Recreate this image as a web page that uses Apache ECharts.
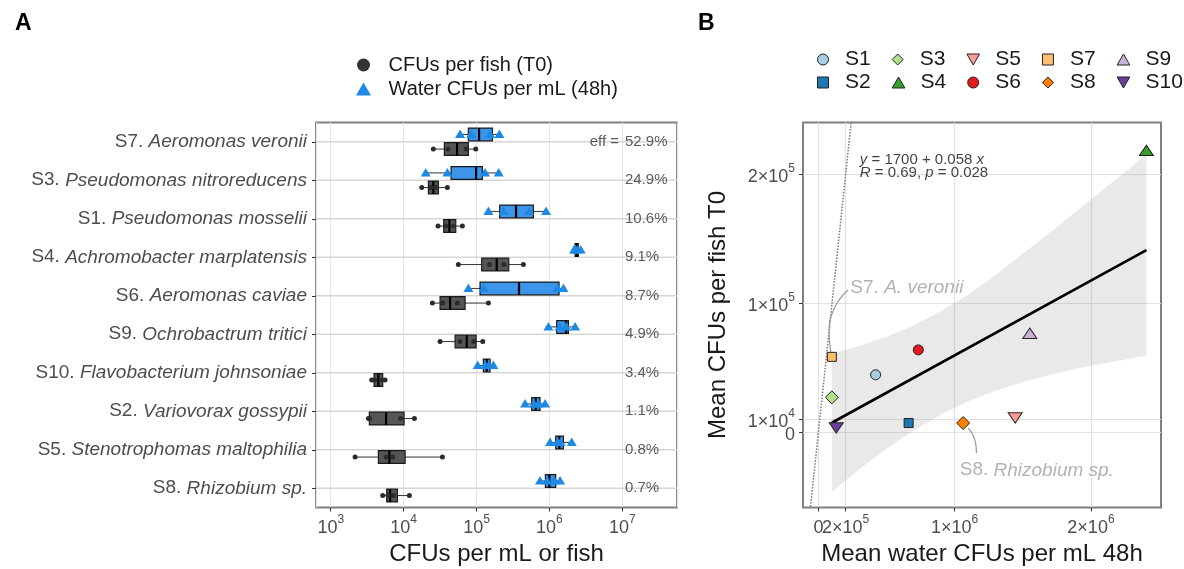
<!DOCTYPE html>
<html>
<head>
<meta charset="utf-8">
<script src="https://cdn.jsdelivr.net/npm/echarts@6/dist/echarts.min.js"></script>
<style>
  html, body { margin: 0; padding: 0; background: #fff; }
  #main { width: 1184px; height: 569px; }
</style>
</head>
<body>
<div id="main"></div>
<script>
  // ---- panel A : strains, top to bottom ----
  var strainIds = ['S7', 'S3', 'S1', 'S4', 'S6', 'S9', 'S10', 'S2', 'S5', 'S8'];
  var speciesNames = ['Aeromonas veronii', 'Pseudomonas nitroreducens', 'Pseudomonas mosselii',
    'Achromobacter marplatensis', 'Aeromonas caviae', 'Ochrobactrum tritici',
    'Flavobacterium johnsoniae', 'Variovorax gossypii', 'Stenotrophomas maltophilia', 'Rhizobium sp.'];
  var effLabels = ['52.9%', '24.9%', '10.6%', '9.1%', '8.7%', '4.9%', '3.4%', '1.1%', '0.8%', '0.7%'];

  // log10 CFUs : [min, q1, median, q3, max]
  var fishBoxLog = [
    [4.408, 4.559, 4.733, 4.888, 4.989],
    [4.248, 4.340, 4.408, 4.477, 4.600],
    [4.472, 4.550, 4.628, 4.715, 4.806],
    [4.751, 5.071, 5.277, 5.442, 5.643],
    [4.395, 4.500, 4.637, 4.843, 5.163],
    [4.500, 4.706, 4.866, 4.994, 5.085],
    [3.562, 3.594, 3.654, 3.713, 3.745],
    [3.517, 3.530, 3.759, 4.006, 4.148],
    [3.334, 3.654, 3.805, 4.020, 4.532],
    [3.713, 3.768, 3.814, 3.914, 4.079]
  ];
  // log10 CFUs, replicate fish
  var fishPtsLog = [
    [4.408, 4.609, 4.855, 4.989],
    [4.248, 4.371, 4.436, 4.600],
    [4.472, 4.576, 4.685, 4.806],
    [4.751, 5.178, 5.375, 5.643],
    [4.395, 4.535, 4.736, 5.163],
    [4.500, 4.775, 4.964, 5.085],
    [3.562, 3.605, 3.702, 3.745],
    [3.517, 3.534, 3.959, 4.148],
    [3.334, 3.761, 3.849, 4.532],
    [3.713, 3.786, 3.859, 4.079]
  ];
  var waterBoxLog = [
    [4.774, 4.888, 5.035, 5.218, 5.314],
    [4.294, 4.651, 4.994, 5.080, 5.309],
    [5.163, 5.318, 5.542, 5.780, 5.954],
    [6.338, 6.352, 6.374, 6.397, 6.429],
    [4.888, 5.048, 5.583, 6.132, 6.192],
    [5.986, 6.100, 6.228, 6.260, 6.352],
    [5.016, 5.094, 5.140, 5.186, 5.231],
    [5.666, 5.757, 5.812, 5.871, 5.940],
    [6.009, 6.086, 6.137, 6.192, 6.306],
    [5.871, 5.945, 5.999, 6.086, 6.146]
  ];
  var waterPtsLog = [
    [4.774, 4.926, 5.186, 5.314],
    [4.303, 4.600, 5.117, 5.304],
    [5.163, 5.370, 5.722, 5.954],
    [6.338, 6.357, 6.387, 6.429],
    [4.888, 5.101, 6.112, 6.192],
    [5.986, 6.138, 6.229, 6.352],
    [5.016, 5.120, 5.171, 5.231],
    [5.666, 5.787, 5.848, 5.940],
    [6.009, 6.112, 6.154, 6.306],
    [5.871, 5.970, 6.066, 6.146]
  ];

  // ---- panel B : strain means ----
  var meanIds = ['S1', 'S2', 'S3', 'S4', 'S5', 'S6', 'S7', 'S8', 'S9', 'S10'];
  var meanWater = [420000, 662000, 98800, 2407000, 1444000, 733000, 98800, 1062000, 1551000, 131000];
  var meanFish = [44600, 7200, 27100, 218600, 11100, 63900, 58500, 7200, 76800, 3400];
  var meanColors = ['#a6cee3', '#1f78b4', '#b2df8a', '#33a02c', '#fb9a99', '#e31a1c', '#fdbf6f', '#ff7f00', '#cab2d6', '#6a3d9a'];

  var fitLine = [[98800, 7400], [2407000, 141300]];
  var identityLine = [[-120000, -120000], [260000, 260000]];
  var bandX = [98800, 300000, 500000, 700000, 900000, 1100000, 1300000, 1500000, 1700000, 1900000, 2100000, 2300000, 2407000];
  var bandLow = [-46100, -28700, -12700, 1600, 13900, 24100, 32300, 39000, 44600, 49400, 53600, 57400, 59300];
  var bandHigh = [60900, 66900, 74100, 83000, 93900, 106900, 121900, 138400, 155000, 172000, 189000, 206000, 216000];
  var xTicksB = [0, 200000, 1000000, 2000000];
  var yTicksB = [0, 10000, 100000, 200000];

  var FONT = 'Liberation Sans';
  var TICK_GRAY = '#4d4d4d';
  var X_RANGE_B = [-113000, 2514000];
  var Y_RANGE_B = [-58300, 240200];

  var myChart = echarts.init(document.getElementById('main'));

  function pw(v) { return Math.pow(10, v); }

  function sciLabel(v) {
    if (v === 0) return '{b|0}';
    var e = Math.floor(Math.log10(v) + 1e-9);
    var m = Math.round(v / Math.pow(10, e));
    return '{b|' + m + '×10}{s|' + e + '}';
  }
  var sciRich = {
    b: { fontSize: 18, color: TICK_GRAY, fontFamily: FONT, lineHeight: 24, verticalAlign: 'bottom' },
    s: { fontSize: 12, color: TICK_GRAY, fontFamily: FONT, lineHeight: 14, verticalAlign: 'top' }
  };

  function boxItems(boxes, pts) {
    return boxes.map(function (b, i) {
      return [i].concat(b.map(pw), pts[i].map(pw));
    });
  }

  function makeBoxRender(dir, fill, drawPoint) {
    return function (params, api) {
      var c = api.value(0);
      var band = Math.abs(api.coord([1000, 1])[1] - api.coord([1000, 0])[1]);
      var yc = api.coord([1000, c])[1] + dir * band * 0.19;
      var h = band * 0.33;
      var px = function (k) { return api.coord([api.value(k), c])[0]; };
      var xMin = px(1), xQ1 = px(2), xMed = px(3), xQ3 = px(4), xMax = px(5);
      var children = [
        { type: 'line', shape: { x1: xMin, y1: yc, x2: xQ1, y2: yc }, style: { stroke: '#333', lineWidth: 1 } },
        { type: 'line', shape: { x1: xQ3, y1: yc, x2: xMax, y2: yc }, style: { stroke: '#333', lineWidth: 1 } },
        { type: 'rect', shape: { x: xQ1, y: yc - h / 2, width: xQ3 - xQ1, height: h },
          style: { fill: fill, stroke: '#1a1a1a', lineWidth: 1.2 } },
        { type: 'line', shape: { x1: xMed, y1: yc - h / 2, x2: xMed, y2: yc + h / 2 }, style: { stroke: '#000', lineWidth: 2.2 } }
      ];
      for (var k = 6; k <= 9; k++) {
        children.push(drawPoint(px(k), yc));
      }
      return { type: 'group', children: children };
    };
  }

  function fishDot(x, y) {
    return { type: 'circle', shape: { cx: x, cy: y, r: 2.5 }, style: { fill: '#2b2b2b' } };
  }
  function waterTri(x, y) {
    return { type: 'polygon', shape: { points: [[x, y - 5], [x - 5, y + 3.5], [x + 5, y + 3.5]] },
      style: { fill: '#1e88e5' } };
  }

  var upTri = 'path://M5,0 L10,8.66 L0,8.66 Z';
  var downTri = 'path://M0,0 L10,0 L5,8.66 Z';
  var square = 'path://M0,0 L10,0 L10,10 L0,10 Z';
  var diamond = 'path://M5,0 L10,5 L5,10 L0,5 Z';
  var meanSymbols = ['circle', square, diamond, upTri, downTri, 'circle', square, diamond, upTri, downTri];
  var meanSizes = [10, 9, 13, [14, 12], [14, 12], 10, 9, 13, [14, 12], [14, 12]];

  var meanSeries = meanIds.map(function (id, i) {
    return {
      name: id,
      type: 'scatter',
      xAxisIndex: 1, yAxisIndex: 1,
      symbol: meanSymbols[i],
      symbolSize: meanSizes[i],
      symbolKeepAspect: true,
      itemStyle: { color: meanColors[i], borderColor: '#222', borderWidth: 1, opacity: 1 },
      z: 6,
      data: [[meanWater[i], meanFish[i]]]
    };
  });

  var legendRow = function (names, top) {
    return {
      data: names,
      top: top, left: 812, width: 420,
      orient: 'horizontal',
      itemWidth: 34, itemHeight: 11, itemGap: 21,
      symbolKeepAspect: true,
      itemStyle: { borderWidth: 1 },
      textStyle: { fontSize: 21, color: '#1a1a1a', fontFamily: FONT },
      selectedMode: false
    };
  };

  // the "0" label of panel B sits on its own axis, so it can overlap its neighbour like the original
  function zeroAxis(isX) {
    return {
      gridIndex: 1, type: 'value', position: isX ? 'bottom' : 'left',
      min: isX ? X_RANGE_B[0] : Y_RANGE_B[0], max: isX ? X_RANGE_B[1] : Y_RANGE_B[1],
      axisLine: { show: false, onZero: false }, splitLine: { show: false },
      axisTick: { show: false, customValues: [0] },
      axisLabel: { margin: isX ? 6 : 8, customValues: [0], formatter: sciLabel, rich: sciRich,
        showMinLabel: true, showMaxLabel: true }
    };
  }

  var option = {
    backgroundColor: '#fff',
    animation: false,
    textStyle: { fontFamily: FONT },
    title: [
      { text: 'A', left: 10, top: 7, textStyle: { fontSize: 23, fontWeight: 'bold', color: '#000', fontFamily: FONT } },
      { text: 'B', left: 693, top: 7, textStyle: { fontSize: 23, fontWeight: 'bold', color: '#000', fontFamily: FONT } }
    ],
    legend: [
      {
        data: [{ name: 'CFUs per fish (T0)', icon: 'circle' }, { name: 'Water CFUs per mL (48h)', icon: upTri }],
        orient: 'vertical', left: 351, top: 50,
        itemWidth: 40, itemHeight: 13, itemGap: 4,
        symbolKeepAspect: true,
        textStyle: { fontSize: 20, color: '#1a1a1a', fontFamily: FONT },
        selectedMode: false
      },
      legendRow(['S1', 'S3', 'S5', 'S7', 'S9'], 44),
      legendRow(['S2', 'S4', 'S6', 'S8', 'S10'], 67)
    ],
    grid: [
      { left: 316, top: 122.5, width: 361, height: 385, show: true, borderColor: '#7f7f7f', borderWidth: 2,
        containLabel: false, outerBoundsMode: 'none' },
      { left: 803, top: 122.5, width: 358, height: 385, show: true, borderColor: '#7f7f7f', borderWidth: 2,
        containLabel: false, outerBoundsMode: 'none' }
    ],
    xAxis: [
      {
        gridIndex: 0, type: 'log', logBase: 10,
        min: pw(2.798), max: pw(7.75),
        name: 'CFUs per mL or fish', nameLocation: 'middle', nameGap: 33,
        nameTextStyle: { fontSize: 24, color: '#1a1a1a', fontFamily: FONT },
        axisLine: { show: false },
        axisTick: { show: true, length: 4, lineStyle: { color: '#333' } },
        splitLine: { show: true, lineStyle: { color: '#e6e6e6', width: 1.2 } },
        minorTick: { show: false }, minorSplitLine: { show: false },
        axisLabel: {
          margin: 6, showMinLabel: false, showMaxLabel: false,
          formatter: function (v) {
            var e = Math.log10(v);
            if (Math.abs(e - Math.round(e)) > 0.01) return '';
            return '{b|10}{s|' + Math.round(e) + '}';
          },
          rich: sciRich
        }
      },
      {
        gridIndex: 1, type: 'value', position: 'bottom', min: X_RANGE_B[0], max: X_RANGE_B[1],
        name: 'Mean water CFUs per mL 48h', nameLocation: 'middle', nameGap: 30,
        nameTextStyle: { fontSize: 24, color: '#1a1a1a', fontFamily: FONT },
        axisLine: { show: false, onZero: false },
        axisTick: { show: true, length: 4, lineStyle: { color: '#333' }, customValues: xTicksB },
        splitLine: { show: true, lineStyle: { color: '#e0e0e0', width: 1.2 } },
        axisLabel: { margin: 6, customValues: xTicksB.slice(1), formatter: sciLabel, rich: sciRich,
          showMinLabel: true, showMaxLabel: true }
      },
      zeroAxis(true)
    ],
    yAxis: [
      {
        gridIndex: 0, type: 'category', inverse: true, data: strainIds,
        axisLine: { show: false },
        axisTick: { show: true, alignWithLabel: true, length: 4, lineStyle: { color: '#333' } },
        splitLine: { show: false },
        axisLabel: {
          margin: 9,
          formatter: function (v, idx) { return '{n|' + v + '. }{i|' + speciesNames[idx] + '}'; },
          rich: {
            n: { fontSize: 19, color: TICK_GRAY, fontFamily: FONT },
            i: { fontSize: 19, color: TICK_GRAY, fontFamily: FONT, fontStyle: 'italic' }
          }
        }
      },
      {
        gridIndex: 1, type: 'value', position: 'left', min: Y_RANGE_B[0], max: Y_RANGE_B[1],
        name: 'Mean CFUs per fish T0', nameLocation: 'middle', nameGap: 73,
        nameTextStyle: { fontSize: 24, color: '#1a1a1a', fontFamily: FONT },
        axisLine: { show: false, onZero: false },
        axisTick: { show: true, length: 4, lineStyle: { color: '#333' }, customValues: yTicksB },
        splitLine: { show: true, lineStyle: { color: '#e0e0e0', width: 1.2 } },
        axisLabel: { margin: 8, customValues: yTicksB.slice(1), formatter: sciLabel, rich: sciRich,
          showMinLabel: true, showMaxLabel: true }
      },
      zeroAxis(false)
    ],
    series: [
      // panel A horizontal grid lines at category centres
      {
        type: 'custom', xAxisIndex: 0, yAxisIndex: 0, silent: true, z: 1,
        data: strainIds.map(function (s, i) { return [i]; }),
        encode: { y: 0 },
        renderItem: function (params, api) {
          var y = api.coord([1000, api.value(0)])[1];
          var cs = params.coordSys;
          return { type: 'line', shape: { x1: cs.x, y1: y, x2: cs.x + cs.width, y2: y },
            style: { stroke: '#d6d6d6', lineWidth: 1.3 } };
        }
      },
      {
        name: 'Water CFUs per mL (48h)', type: 'custom', xAxisIndex: 0, yAxisIndex: 0, z: 3,
        itemStyle: { color: '#1e88e5' },
        data: boxItems(waterBoxLog, waterPtsLog),
        encode: { x: [1, 5], y: 0 },
        renderItem: makeBoxRender(-1, '#3d95ea', waterTri)
      },
      {
        name: 'CFUs per fish (T0)', type: 'custom', xAxisIndex: 0, yAxisIndex: 0, z: 3,
        itemStyle: { color: '#333333' },
        data: boxItems(fishBoxLog, fishPtsLog),
        encode: { x: [1, 5], y: 0 },
        renderItem: makeBoxRender(1, '#555555', fishDot)
      },
      {
        type: 'scatter', xAxisIndex: 0, yAxisIndex: 0, symbolSize: 0, silent: true, z: 4,
        data: effLabels.map(function (t, i) { return [pw(7.037), i]; }),
        label: {
          show: true, position: 'right', distance: 0,
          formatter: function (p) { return effLabels[p.dataIndex]; },
          fontSize: 15, color: '#333', fontFamily: FONT
        }
      },
      {
        type: 'scatter', xAxisIndex: 0, yAxisIndex: 0, symbolSize: 0, silent: true, z: 4,
        data: [[pw(7.037), 0]],
        label: { show: true, position: 'left', distance: 6, formatter: 'eff =', fontSize: 15, color: '#333', fontFamily: FONT }
      },
      // panel B confidence band
      {
        type: 'custom', xAxisIndex: 1, yAxisIndex: 1, silent: true, clip: true, z: 2,
        data: bandX.map(function (x, i) { return [x, bandLow[i], bandHigh[i]]; }),
        encode: { x: 0, y: [1, 2] },
        renderItem: function (params, api) {
          if (params.dataIndex !== 0) return null;
          var up = bandX.map(function (x, i) { return api.coord([x, bandHigh[i]]); });
          var lo = bandX.map(function (x, i) { return api.coord([x, bandLow[i]]); }).reverse();
          return { type: 'polygon', shape: { points: up.concat(lo) }, style: { fill: 'rgba(153,153,153,0.22)' } };
        }
      },
      {
        type: 'line', xAxisIndex: 1, yAxisIndex: 1, silent: true, symbol: 'none', z: 3,
        data: identityLine,
        lineStyle: { color: '#777', width: 1.5, type: 'dotted' }
      },
      {
        type: 'line', xAxisIndex: 1, yAxisIndex: 1, silent: true, symbol: 'none', z: 4,
        data: fitLine,
        lineStyle: { color: '#000', width: 2.6 }
      },
      // repel-style connectors
      {
        type: 'line', xAxisIndex: 1, yAxisIndex: 1, silent: true, symbol: 'none', smooth: 0.5, z: 4,
        data: [[217000, 110300], [111000, 94800], [79000, 76800], [91000, 62000]],
        lineStyle: { color: '#999', width: 1.2 }
      },
      {
        type: 'line', xAxisIndex: 1, yAxisIndex: 1, silent: true, symbol: 'none', smooth: 0.5, z: 4,
        data: [[1099000, 3300], [1148000, -5700], [1160000, -16000]],
        lineStyle: { color: '#999', width: 1.2 }
      },
      {
        type: 'scatter', xAxisIndex: 1, yAxisIndex: 1, symbolSize: 0, silent: true, z: 5,
        data: [[234600, 112100]],
        label: { show: true, position: 'right', distance: 0, formatter: '{n|S7. }{i|A. veronii}',
          rich: { n: { fontSize: 19, color: '#9e9e9e', fontFamily: FONT },
                  i: { fontSize: 19, color: '#9e9e9e', fontFamily: FONT, fontStyle: 'italic' } } }
      },
      {
        type: 'scatter', xAxisIndex: 1, yAxisIndex: 1, symbolSize: 0, silent: true, z: 5,
        data: [[1037000, -29400]],
        label: { show: true, position: 'right', distance: 0, formatter: '{n|S8. }{i|Rhizobium sp.}',
          rich: { n: { fontSize: 19, color: '#9e9e9e', fontFamily: FONT },
                  i: { fontSize: 19, color: '#9e9e9e', fontFamily: FONT, fontStyle: 'italic' } } }
      },
      {
        type: 'scatter', xAxisIndex: 1, yAxisIndex: 1, symbolSize: 0, silent: true, z: 5,
        data: [[303700, 205900]],
        label: { show: true, position: 'right', distance: 0, lineHeight: 13,
          formatter: '{i|y} = 1700 + 0.058 {i|x}\n{i|R} = 0.69, {i|p} = 0.028',
          fontSize: 15, color: '#111', fontFamily: FONT,
          rich: { i: { fontSize: 15, color: '#111', fontFamily: FONT, fontStyle: 'italic', lineHeight: 13 } } }
      }
    ].concat(meanSeries)
  };

  myChart.setOption(option);
</script>
</body>
</html>
